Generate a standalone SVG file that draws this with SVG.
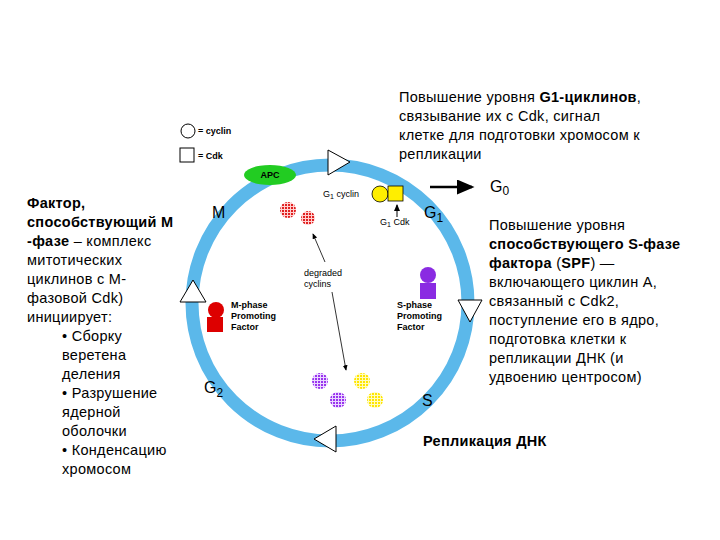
<svg xmlns="http://www.w3.org/2000/svg" width="720" height="540" viewBox="0 0 720 540">
<style>
text{font-family:"Liberation Sans",Arial,sans-serif;fill:#000}
.t{font-size:14.5px;letter-spacing:0.3px}
.s{font-size:9px}
.b{font-weight:bold}
.tri{fill:#fff;stroke:#000;stroke-width:1}
.lbl{font-size:16px}
</style>
<defs>
<marker id="ah" markerWidth="8" markerHeight="8" refX="6" refY="3" orient="auto"><path d="M0,0 L7,3 L0,6 z" fill="#000"/></marker>
<pattern id="pr" width="3" height="3" patternUnits="userSpaceOnUse"><rect width="3" height="3" fill="#ffd0d0"/><rect width="2" height="2" fill="#e02020"/></pattern>
<pattern id="pp" width="3" height="3" patternUnits="userSpaceOnUse"><rect width="3" height="3" fill="#ead8ff"/><rect width="2" height="2" fill="#9933ee"/></pattern>
<pattern id="py" width="3" height="3" patternUnits="userSpaceOnUse"><rect width="3" height="3" fill="#fffbc0"/><rect width="2" height="2" fill="#ffe600"/></pattern>
</defs>
<rect width="720" height="540" fill="#fff"/>
<g id="cycle">
<circle cx="330" cy="303" r="138" fill="none" stroke="#5bb8ea" stroke-width="13"/>
<polygon class="tri" points="328,150 328,175 350,162"/>
<polygon class="tri" points="180,302 206,302 193,280"/>
<polygon class="tri" points="458,300 482,300 470,322"/>
<polygon class="tri" points="336,426 336,452 314,439"/>
<ellipse id="apc" cx="270" cy="175" rx="26" ry="10" fill="#22cc22"/>
<text x="270" y="178" class="s b" text-anchor="middle">APC</text>
<text x="212" y="218" class="lbl">M</text>
<text x="424" y="218" class="lbl">G<tspan font-size="12" dy="4">1</tspan></text>
<text x="204" y="393" class="lbl">G<tspan font-size="12" dy="4">2</tspan></text>
<text x="422" y="406" class="lbl">S</text>
</g>
<g id="legend">
<circle cx="188" cy="131" r="7" fill="none" stroke="#000"/>
<text x="198" y="134" class="s b">= cyclin</text>
<rect x="180" y="148" width="14" height="14" fill="none" stroke="#000"/>
<text x="198" y="159" class="s b">= Cdk</text>
</g>
<g id="g1">
<text x="323" y="197" class="s">G<tspan font-size="7" dy="2">1</tspan><tspan dy="-2"> cyclin</tspan></text>
<circle cx="380" cy="194" r="8" fill="#ffee00" stroke="#000" stroke-width="0.8"/>
<rect x="388" y="186" width="15" height="15" fill="#ffee00" stroke="#000" stroke-width="0.8"/>
<text x="380" y="225" class="s">G<tspan font-size="7" dy="2">1</tspan><tspan dy="-2"> Cdk</tspan></text>
</g>
<g id="mpf">
<circle cx="216" cy="310" r="8" fill="#dd0000"/>
<rect x="207" y="317" width="16" height="15" fill="#dd0000"/>
<text x="231" y="308" class="s b">M-phase</text>
<text x="231" y="319" class="s b">Promoting</text>
<text x="231" y="330" class="s b">Factor</text>
</g>
<g id="spf">
<circle cx="428" cy="275" r="8" fill="#8a2be2"/>
<rect x="420" y="283" width="16" height="16" fill="#8a2be2"/>
<text x="397" y="308" class="s b">S-phase</text>
<text x="397" y="319" class="s b">Promoting</text>
<text x="397" y="330" class="s b">Factor</text>
</g>
<g id="degraded">
<circle cx="288" cy="210" r="8" fill="url(#pr)"/>
<circle cx="308" cy="218" r="7" fill="url(#pr)"/>
<circle cx="320" cy="381" r="8" fill="url(#pp)"/>
<circle cx="338" cy="400" r="8" fill="url(#pp)"/>
<circle cx="362" cy="381" r="8" fill="url(#py)"/>
<circle cx="375" cy="400" r="8" fill="url(#py)"/>
<text x="304" y="276" class="s">degraded</text>
<text x="304" y="287" class="s">cyclins</text>
</g>
<g id="connectors" stroke="#000" fill="none">
<line x1="430" y1="187" x2="472" y2="187" stroke-width="2.5" marker-end="url(#ah)"/>
<line x1="397" y1="217" x2="397" y2="205" stroke-width="1" marker-end="url(#ah)"/>
<line x1="325" y1="262" x2="313" y2="234" stroke-width="0.8" marker-end="url(#ah)"/>
<line x1="332" y1="292" x2="346" y2="370" stroke-width="0.8" marker-end="url(#ah)"/>
</g>
<g id="text-g0">
<text x="490" y="192" class="lbl">G<tspan font-size="12" dy="3">0</tspan></text>
</g>
<g id="text-top">
<text x="399" y="102" class="t">Повышение уровня <tspan class="b">G1-циклинов</tspan>,</text>
<text x="399" y="121" class="t">связывание их с Cdk, сигнал</text>
<text x="399" y="140" class="t">клетке для подготовки хромосом к</text>
<text x="399" y="159" class="t">репликации</text>
</g>
<g id="text-right">
<text x="489" y="230" class="t">Повышение уровня</text>
<text x="489" y="249" class="t b">способствующего S-фазе</text>
<text x="489" y="268" class="t"><tspan class="b">фактора</tspan> (<tspan class="b">SPF</tspan>) —</text>
<text x="489" y="287" class="t">включающего циклин А,</text>
<text x="489" y="306" class="t">связанный с Cdk2,</text>
<text x="489" y="325" class="t">поступление его в ядро,</text>
<text x="489" y="344" class="t">подготовка клетки к</text>
<text x="489" y="363" class="t">репликации ДНК (и</text>
<text x="489" y="382" class="t">удвоению центросом)</text>
</g>
<g id="text-dna">
<text x="423" y="446" class="t b" font-size="15">Репликация ДНК</text>
</g>
<g id="text-left">
<text x="27" y="208" class="t b">Фактор,</text>
<text x="27" y="227" class="t b">способствующий М</text>
<text x="27" y="246" class="t"><tspan class="b">-фазе</tspan> – комплекс</text>
<text x="27" y="265" class="t">митотических</text>
<text x="27" y="284" class="t">циклинов с  М-</text>
<text x="27" y="303" class="t">фазовой Cdk)</text>
<text x="27" y="322" class="t">инициирует:</text>
<text x="62" y="341" class="t">• Сборку</text>
<text x="62" y="360" class="t">веретена</text>
<text x="62" y="379" class="t">деления</text>
<text x="62" y="398" class="t">• Разрушение</text>
<text x="62" y="417" class="t">ядерной</text>
<text x="62" y="436" class="t">оболочки</text>
<text x="62" y="455" class="t">• Конденсацию</text>
<text x="62" y="474" class="t">хромосом</text>
</g>
</svg>
